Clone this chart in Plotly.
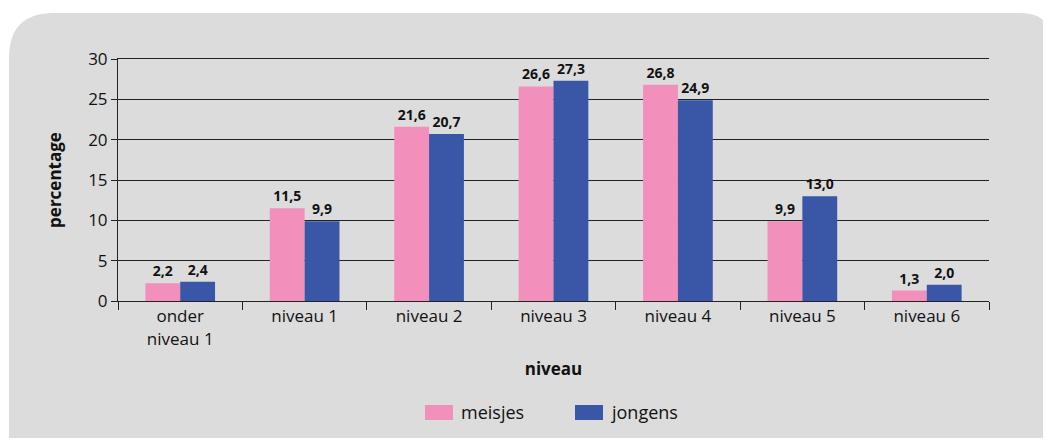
import plotly.graph_objects as go

categories = ["onder<br>niveau 1", "niveau 1", "niveau 2", "niveau 3", "niveau 4", "niveau 5", "niveau 6"]
series_names = ["meisjes", "jongens"]
meisjes = [2.2, 11.5, 21.6, 26.6, 26.8, 9.9, 1.3]
jongens = [2.4, 9.9, 20.7, 27.3, 24.9, 13.0, 2.0]
y_ticks = [0, 5, 10, 15, 20, 25, 30]

PINK = "#f28fbb"
BLUE = "#3a57a7"
PANEL = "#dcdcdc"
INK = "#111111"
GRID = "#222222"
FONT = "Open Sans"

OFF = 8  # default page body margin
VW, VH = 1051, 446
W, H = VW - OFF, VH - 2 * OFF
# plot area in screen pixels (reference)
PX0, PX1, PY0, PY1 = 118, 989, 59, 301
L, T = PX0 - OFF, PY0 - OFF
R = W - (PX1 - OFF)
B = H - (PY1 - OFF)
pw, ph = PX1 - PX0, PY1 - PY0


def xp(px):
    return (px - PX0) / pw


def yp(py):
    return (PY1 - py) / ph


def fmt(v):
    return f"{v:.1f}".replace(".", ",")


fig = go.Figure()
for name, vals, col in [(series_names[0], meisjes, PINK), (series_names[1], jongens, BLUE)]:
    fig.add_trace(go.Bar(x=categories, y=vals, name=name, marker_color=col,
                         marker_line_width=0,
                         text=[f"<b>{fmt(v)}</b>" for v in vals], textposition="outside",
                         textfont=dict(family=FONT, size=14, color=INK),
                         cliponaxis=False, showlegend=False))

# rounded background panel
x0, y0, x1, y1 = 9, 13, 1060, 470
r1, r2 = 45, 30
path = (
    f"M {xp(x0)} {yp(y1)} "
    f"L {xp(x0)} {yp(y0 + r1)} "
    f"Q {xp(x0)} {yp(y0)} {xp(x0 + r1)} {yp(y0)} "
    f"L {xp(VW - r2)} {yp(y0)} "
    f"Q {xp(VW)} {yp(y0)} {xp(VW)} {yp(y0 + r2)} "
    f"L {xp(x1)} {yp(y0 + r2)} L {xp(x1)} {yp(y1)} Z"
)
fig.add_shape(type="path", path=path, xref="paper", yref="paper",
              fillcolor=PANEL, line_width=0, layer="below")

# legend (custom, rectangular swatches)
legend_items = [(series_names[0], PINK, 425), (series_names[1], BLUE, 575)]
for name, col, sx in legend_items:
    fig.add_shape(type="rect", xref="paper", yref="paper",
                  x0=xp(sx), x1=xp(sx + 28), y0=yp(420), y1=yp(405),
                  fillcolor=col, line_width=0)
    fig.add_annotation(text=name, xref="paper", yref="paper", x=xp(sx + 34), y=yp(412),
                       xanchor="left", yanchor="middle", showarrow=False,
                       font=dict(family=FONT, size=18, color=INK))

fig.update_layout(
    width=W, height=H,
    margin=dict(l=L, r=R, t=T, b=B, autoexpand=False),
    paper_bgcolor="white",
    plot_bgcolor="rgba(0,0,0,0)",
    barmode="group",
    bargap=0.44,
    bargroupgap=0,
    font=dict(family=FONT, size=16, color=INK),
    showlegend=False,
    xaxis=dict(
        tickson="boundaries", ticks="outside", ticklen=8, tickcolor=GRID,
        showline=True, linecolor=GRID, linewidth=1, mirror=True,
        showgrid=False,
        tickfont=dict(family=FONT, size=17, color=INK),
        title=dict(text="<b>niveau</b>", font=dict(family=FONT, size=17, color=INK),
                   standoff=14),
    ),
    yaxis=dict(
        range=[0, 30], tickvals=y_ticks, ticktext=[str(t) for t in y_ticks],
        ticks="outside", ticklen=6, tickcolor=GRID,
        showline=True, linecolor=GRID, linewidth=1,
        showgrid=True, gridcolor=GRID, gridwidth=1,
        zeroline=False,
        tickfont=dict(family=FONT, size=17, color=INK),
        title=dict(text="<b>percentage</b>", font=dict(family=FONT, size=17, color=INK),
                   standoff=22),
    ),
)

fig.write_html("out.html")
